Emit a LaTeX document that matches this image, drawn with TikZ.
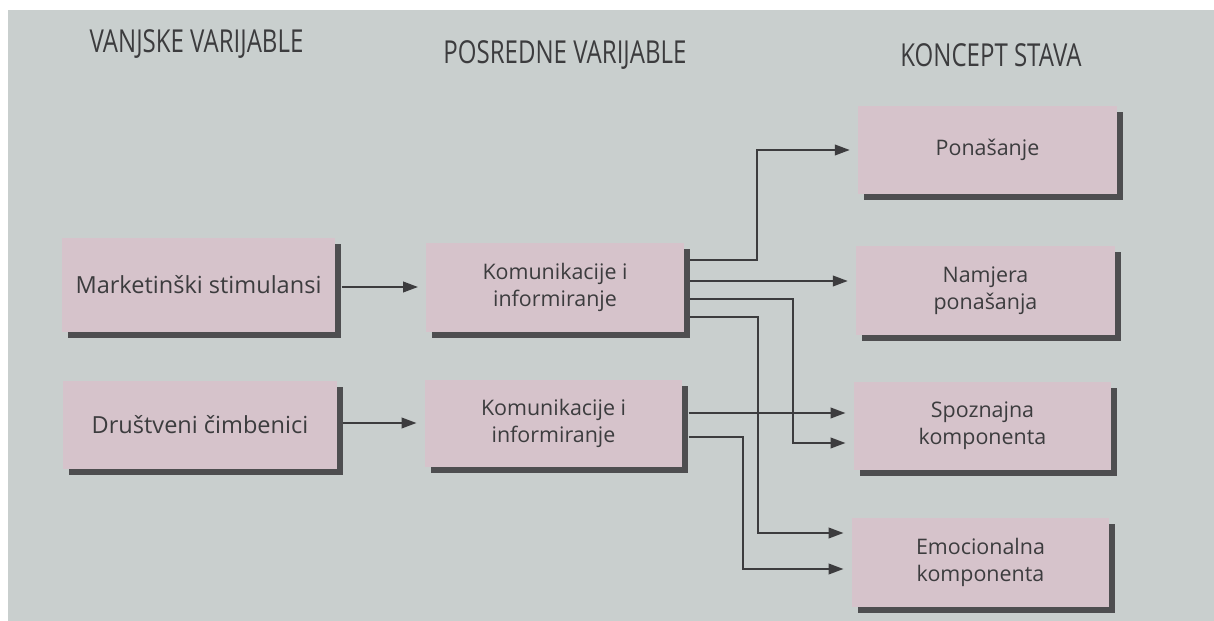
\documentclass[tikz,border=0pt]{standalone}
\usepackage{fontspec}
\setmainfont{Open Sans}
\newfontfamily\headfont[FakeStretch=0.76]{Open Sans}
\usetikzlibrary{arrows.meta, shadows}

\definecolor{pagegray}{RGB}{201,207,206}
\definecolor{boxpink}{RGB}{214,195,203}
\definecolor{shadowgray}{RGB}{78,78,80}
\definecolor{inkgray}{RGB}{60,60,62}

\tikzset{
	box/.style={fill=boxpink, minimum width=5.15cm, minimum height=1.78cm, align=center,
		text=inkgray, font=\fontsize{12.2}{15.5}\selectfont,
		drop shadow={shadow xshift=0.12cm, shadow yshift=-0.12cm, fill=shadowgray, opacity=1}},
	bigbox/.style={box, minimum width=5.47cm, font=\fontsize{13.4}{16}\selectfont},
	header/.style={text=inkgray, anchor=base, font=\headfont\fontsize{18}{20}\selectfont},
	pil/.style={draw=inkgray, line width=1.2pt, -{Triangle[length=8.5pt,width=6pt]},
		shorten <=3.5pt, shorten >=4.5pt},
}

\begin{document}
\begin{tikzpicture}[x=0.02cm, y=-0.02cm]
		
		% Page
		\fill[white] (0,0) rectangle (1214,621);
		\fill[pagegray] (8,10) rectangle (1214,621);
		\useasboundingbox (0,0) rectangle (1214,621);
		
		% Headers
		\node[header] (vanj) at (196.5,53) {VANJSKE VARIJABLE};
		\node[header] (posr) at (565,64) {POSREDNE VARIJABLE};
		\node[header] (konc) at (991,67) {KONCEPT STAVA};
		
		% Boxes
		\node[bigbox, minimum height=1.88cm] (mark) at (198.5,285) {Marketinški stimulansi};
		\node[bigbox] (drus) at (200,425) {Društveni čimbenici};
		\node[box] (kom1) at (555,287.5) {Komunikacije i\\informiranje};
		\node[box, minimum height=1.74cm] (kom2) at (553.5,423.5) {Komunikacije i\\informiranje};
		\node[box, minimum width=5.18cm] (pon) at (987.5,150) {Ponašanje};
		\node[box, minimum width=5.18cm] (nam) at (985.5,290.5) {Namjera\\ponašanja};
		\node[box] (spo) at (982.5,426) {Spoznajna\\komponenta};
		\node[box] (emo) at (980.5,562.5) {Emocionalna\\komponenta};
		
		% Arrows
		\draw[pil] (mark.east |- 0,287) -- (kom1.west |- 0,287);
		\draw[pil] (drus.east |- 0,423) -- (kom2.west |- 0,423);
		
		\draw[pil] (kom1.east |- 0,260) -| (757,150) -- (pon.west);
		\draw[pil] (kom1.east |- 0,281) -- (nam.west |- 0,281);
		\draw[pil] (kom1.east |- 0,299) -| (793,443) -- (spo.west |- 0,443);
		\draw[pil] (kom1.east |- 0,317) -| (758,533) -- (emo.west |- 0,533);
		
		\draw[pil] (kom2.east |- 0,413) -- (spo.west |- 0,413);
		\draw[pil] (kom2.east |- 0,437) -| (743,569) -- (emo.west |- 0,569);
		
	\end{tikzpicture}
\end{document}
